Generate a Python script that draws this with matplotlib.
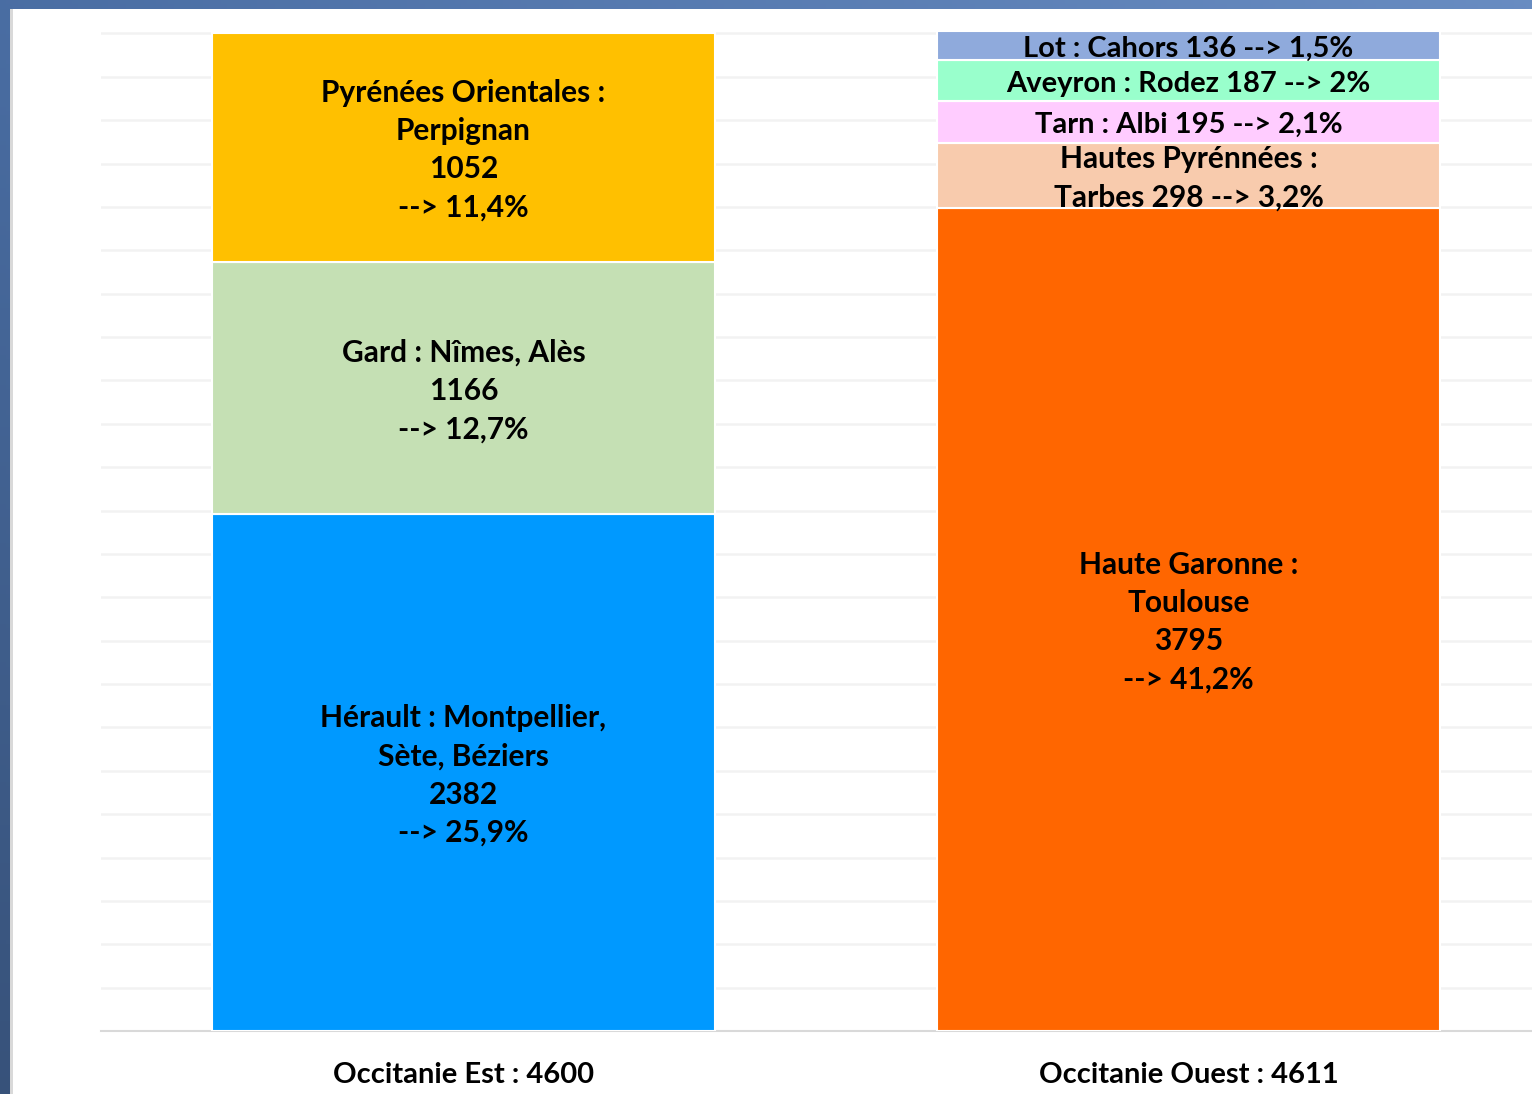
import numpy as np
import matplotlib
matplotlib.use("Agg")
import matplotlib.pyplot as plt
from matplotlib.patches import Rectangle

# data
categories = ["Occitanie Est : 4600", "Occitanie Ouest : 4611"]

est_values = [2382, 1166, 1052]
est_colors = ["#0099FF", "#C5E0B4", "#FFC000"]
est_labels = ["Hérault : Montpellier,\nSète, Béziers\n2382\n--> 25,9%",
              "Gard : Nîmes, Alès\n1166\n--> 12,7%",
              "Pyrénées Orientales :\nPerpignan\n1052\n--> 11,4%"]

ouest_values = [3795, 298, 195, 187, 136]
ouest_colors = ["#FF6600", "#F8CBAD", "#FFCCFF", "#99FFCC", "#8FAADC"]
ouest_labels = ["Haute Garonne :\nToulouse\n3795\n--> 41,2%",
                "Hautes Pyrénnées :\nTarbes 298 --> 3,2%",
                "Tarn : Albi 195 --> 2,1%",
                "Aveyron : Rodez 187 --> 2%",
                "Lot : Cahors 136 --> 1,5%"]

W, H = 1532, 1094
FONT = "Lato"

fig = plt.figure(figsize=(W / 100, H / 100), dpi=100)

# blue frame with gradient (top strip + left strip)
bg = fig.add_axes([0, 0, 1, 1])
grad_x = np.linspace(0, 1, 256)[None, :]
grad_y = np.linspace(0, 1, 256)[:, None]
blue = np.array([0.29, 0.43, 0.64]) * (1 - 0.25 * grad_y[..., None]) \
       + np.array([0.12, 0.12, 0.12]) * grad_x[..., None] * (1 - grad_y[..., None])
bg.imshow(np.clip(blue, 0, 1), extent=[0, 1, 0, 1], aspect="auto", origin="upper")
bg.add_patch(Rectangle((10 / W, 0), 3 / W, 1 - 9 / H, color="#d9d9d9", lw=0))
bg.add_patch(Rectangle((13 / W, 0), 1, 1 - 9 / H, color="white", lw=0))
bg.set_xlim(0, 1)
bg.set_ylim(0, 1)
bg.axis("off")

# main axes: x from -0.5 to 1.5 (cut at right edge of picture)
px_per_cat = 725
ax = fig.add_axes([101 / W, 63 / H, 2 * px_per_cat / W, 1000 / H])
ax.set_xlim(-0.5, 1.5)
ax.set_ylim(0, 4611)
ax.patch.set_alpha(0)

width = 0.695
for x, vals, cols, labs in [(0, est_values, est_colors, est_labels),
                            (1, ouest_values, ouest_colors, ouest_labels)]:
    bottom = 0
    for v, c, lab in zip(vals, cols, labs):
        ax.bar(x, v, width=width, bottom=bottom, color=c, edgecolor="white",
               linewidth=1.5, zorder=3)
        small = v < 250
        ax.text(x, bottom + v / 2 - 13, lab, ha="center", va="center",
                fontsize=21 if small else 21.5, fontweight="bold", family=FONT,
                color="black", linespacing=1.45, zorder=4)
        bottom += v

ax.set_yticks(np.arange(0, 4601, 200))
ax.set_yticklabels([])
ax.tick_params(axis="y", length=0)
ax.grid(axis="y", color="#f2f2f2", linewidth=1.8, zorder=0)
ax.set_xticks([0, 1])
ax.set_xticklabels(categories, fontsize=21, fontweight="bold", family=FONT)
ax.tick_params(axis="x", length=0, pad=22)
for s in ["top", "right", "left"]:
    ax.spines[s].set_visible(False)
ax.spines["bottom"].set_color("#d9d9d9")
ax.spines["bottom"].set_linewidth(1.5)

fig.savefig("out.png", dpi=100)
